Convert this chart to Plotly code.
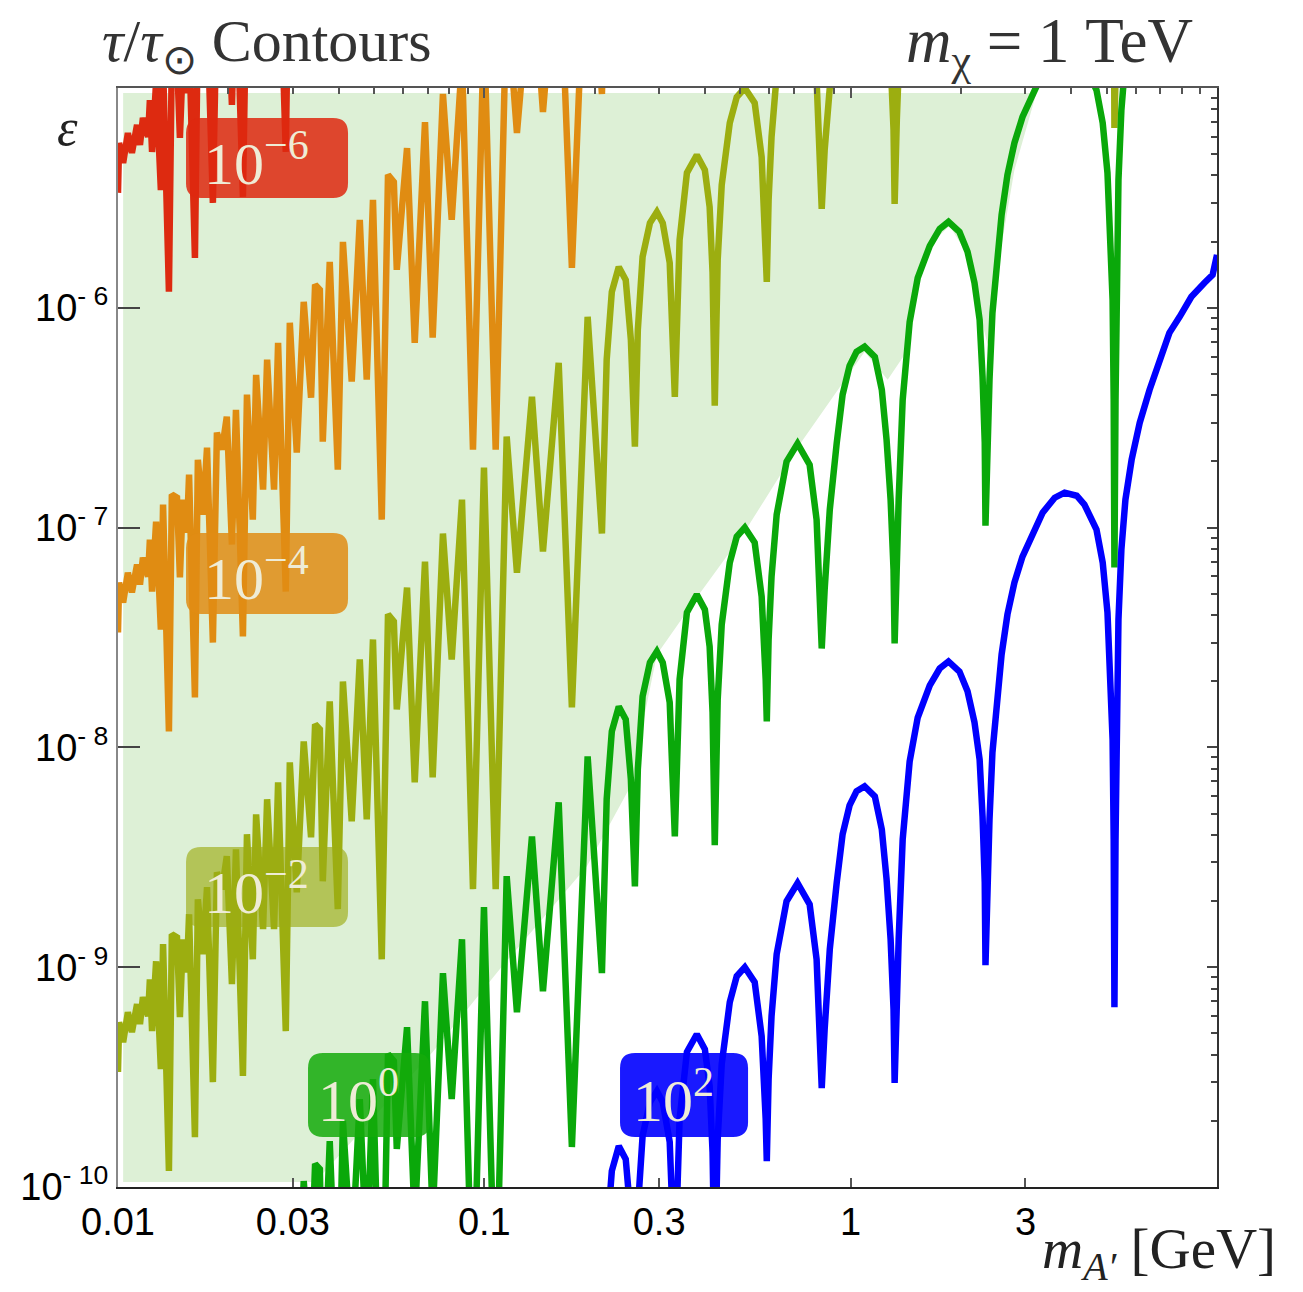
import numpy as np
import plotly.graph_objects as go

# ---------------- data ----------------
# Shared resonance profile of the contours: log10(m_A' / GeV) and log10(epsilon)
# on the tau/tau_sun = 1 contour.  Every other contour is the same curve rescaled in epsilon.
log_mA = [
    -2.000, -1.997, -1.986, -1.973, -1.962, -1.948, -1.940, -1.932, -1.918, -1.913,
    -1.907, -1.896, -1.883, -1.877, -1.861, -1.853, -1.839, -1.831, -1.823, -1.812,
    -1.806, -1.790, -1.782, -1.768, -1.757, -1.741, -1.730, -1.716, -1.703, -1.689,
    -1.678, -1.659, -1.648, -1.632, -1.623, -1.604, -1.593, -1.574, -1.563, -1.542,
    -1.531, -1.512, -1.493, -1.473, -1.462, -1.449, -1.441, -1.422, -1.400, -1.386,
    -1.362, -1.340, -1.321, -1.304, -1.280, -1.263, -1.247, -1.239, -1.211, -1.190,
    -1.162, -1.141, -1.113, -1.089, -1.061, -1.031, -1.001, -0.969, -0.939, -0.911,
    -0.870, -0.840, -0.797, -0.761, -0.718, -0.679, -0.666, -0.652, -0.633, -0.614,
    -0.600, -0.589, -0.581, -0.568, -0.548, -0.529, -0.513, -0.494, -0.480, -0.467,
    -0.447, -0.420, -0.398, -0.385, -0.377, -0.371, -0.363, -0.352, -0.330, -0.311,
    -0.289, -0.262, -0.243, -0.232, -0.229, -0.224, -0.216, -0.202, -0.175, -0.145,
    -0.112, -0.093, -0.085, -0.079, -0.071, -0.057, -0.038, -0.022, -0.003, 0.016,
    0.038, 0.066, 0.085, 0.098, 0.109, 0.117, 0.120, 0.126, 0.131, 0.142,
    0.161, 0.183, 0.216, 0.243, 0.267, 0.297, 0.319, 0.338, 0.352, 0.360,
    0.366, 0.368, 0.374, 0.379, 0.387, 0.398, 0.412, 0.428, 0.447, 0.469,
    0.494, 0.524, 0.557, 0.584, 0.617, 0.638, 0.671, 0.688, 0.701, 0.709,
    0.715, 0.718, 0.720, 0.723, 0.726, 0.731, 0.739, 0.750, 0.767, 0.789,
    0.816, 0.843, 0.870, 0.898, 0.930, 0.966, 0.988, 1.000,
]
log_eps_unit = [
    -11.477, -11.250, -11.341, -11.205, -11.295, -11.168, -11.259, -11.136, -11.223, -11.055,
    -11.291, -10.973, -11.464, -10.895, -11.927, -10.850, -10.864, -11.227, -10.873, -11.023,
    -10.759, -11.773, -10.691, -10.941, -10.636, -11.523, -10.568, -10.645, -10.495, -11.077,
    -10.464, -11.495, -10.395, -10.964, -10.305, -10.827, -10.236, -10.827, -10.159, -11.291,
    -10.068, -10.659, -9.973, -10.409, -9.895, -9.918, -10.609, -9.791, -10.736, -9.700,
    -10.336, -9.600, -10.327, -9.509, -10.964, -9.395, -9.427, -9.827, -9.273, -10.159,
    -9.155, -10.136, -9.027, -9.600, -8.873, -10.645, -8.727, -10.645, -8.586, -9.205,
    -8.405, -9.109, -8.250, -9.818, -8.041, -9.027, -8.236, -7.927, -7.814, -7.873,
    -8.145, -8.632, -8.100, -7.768, -7.614, -7.564, -7.614, -7.795, -8.405, -7.691,
    -7.386, -7.305, -7.373, -7.541, -7.841, -8.445, -7.782, -7.441, -7.159, -7.041,
    -7.000, -7.068, -7.314, -7.691, -7.882, -7.509, -7.223, -6.941, -6.700, -6.618,
    -6.714, -6.964, -7.282, -7.550, -7.282, -6.918, -6.614, -6.395, -6.264, -6.200,
    -6.177, -6.223, -6.373, -6.600, -6.873, -7.191, -7.527, -7.145, -6.873, -6.418,
    -6.064, -5.864, -5.718, -5.641, -5.609, -5.655, -5.745, -5.886, -6.055, -6.314,
    -6.614, -6.991, -6.555, -6.327, -6.023, -5.805, -5.577, -5.395, -5.250, -5.132,
    -5.041, -4.932, -4.864, -4.841, -4.855, -4.895, -5.009, -5.159, -5.386, -5.645,
    -5.964, -6.418, -7.182, -6.418, -5.782, -5.418, -5.100, -4.873, -4.691, -4.523,
    -4.373, -4.250, -4.114, -4.041, -3.950, -3.886, -3.850, -3.759,
]

# contour levels tau/tau_sun and their labels / colours
levels = [1e-6, 1e-4, 1e-2, 1e0, 1e2]
level_labels = ["10<sup>\u22126</sup>", "10<sup>\u22124</sup>", "10<sup>\u22122</sup>",
                "10<sup>0</sup>", "10<sup>2</sup>"]
line_colors = ["#dd2a10", "#e08c12", "#9cae10", "#0aa80a", "#0000ff"]
box_colors = ["rgba(222,40,15,0.85)", "rgba(224,140,20,0.85)", "rgba(157,172,20,0.65)",
              "rgba(20,170,10,0.85)", "rgba(0,0,255,0.9)"]

# shaded region (log10 m_A', log10 eps)
fill_log_mA = [-1.986, 0.507, 0.447, 0.398, 0.374, 0.347, 0.319, 0.270, 0.221, 0.175,
               0.147, 0.101, 0.038, -0.145, -0.289, -0.420, -0.529, -0.576, -0.595,
               -0.720, -0.958, -1.141, -1.462, -1.986]
fill_log_eps = [-5.023, -5.023, -5.373, -5.850, -6.168, -5.986, -5.759, -5.627, -5.705, -5.918,
                -6.214, -6.327, -6.200, -6.636, -7.018, -7.318, -7.577, -7.964, -8.159,
                -8.541, -9.009, -9.386, -9.977, -9.977]

x_tick_vals = [0.01, 0.03, 0.1, 0.3, 1, 3]
x_tick_text = ["0.01", "0.03", "0.1", "0.3", "1", "3"]
y_tick_vals = [1e-10, 1e-9, 1e-8, 1e-7, 1e-6]
y_tick_text = ["10<sup>- 10</sup>", "10<sup>- 9</sup>", "10<sup>- 8</sup>",
               "10<sup>- 7</sup>", "10<sup>- 6</sup>"]

# ---------------- figure ----------------
fig = go.Figure()

fig.add_trace(go.Scatter(
    x=10 ** np.array(fill_log_mA), y=10 ** np.array(fill_log_eps),
    mode="lines", fill="toself", fillcolor="#ddf0d6",
    line=dict(width=0, color="rgba(0,0,0,0)"), hoverinfo="skip", showlegend=False))

m_vals = 10 ** np.array(log_mA)
eps_unit = 10 ** np.array(log_eps_unit)
for lev, col in zip(levels, line_colors):
    fig.add_trace(go.Scatter(
        x=m_vals, y=eps_unit / lev, mode="lines",
        line=dict(color=col, width=6.5), hoverinfo="skip", showlegend=False))

# invisible trace for the mirrored (top/right) axes
fig.add_trace(go.Scatter(x=[0.1], y=[1e-7], xaxis="x2", yaxis="y2", mode="markers",
                         marker=dict(opacity=0), hoverinfo="skip", showlegend=False))

# rounded label boxes (paper coordinates)
def rbox(x0, y0, x1, y1, r=0.0136):
    return (f"M {x0+r},{y0} L {x1-r},{y0} Q {x1},{y0} {x1},{y0+r} "
            f"L {x1},{y1-r} Q {x1},{y1} {x1-r},{y1} L {x0+r},{y1} "
            f"Q {x0},{y1} {x0},{y1-r} L {x0},{y0+r} Q {x0},{y0} {x0+r},{y0} Z")

boxes = [(0.0619, 0.8999, 0.2093, 0.9727),
         (0.0619, 0.5214, 0.2093, 0.5951),
         (0.0619, 0.2366, 0.2093, 0.3094),
         (0.1729, 0.0455, 0.2839, 0.1219),
         (0.4568, 0.0455, 0.5733, 0.1219)]
shapes = []
annotations = []
for (x0, y0, x1, y1), bc, lab in zip(boxes, box_colors, level_labels):
    shapes.append(dict(type="path", xref="paper", yref="paper", path=rbox(x0, y0, x1, y1),
                       fillcolor=bc, line=dict(width=0), layer="above"))
    annotations.append(dict(xref="paper", yref="paper", x=(x0 + x1) / 2 - 0.010,
                            y=(y0 + y1) / 2 - 0.001, text=lab, showarrow=False,
                            xanchor="center", yanchor="middle",
                            font=dict(family="Liberation Serif", size=60, color="#eeecd6")))

serif = "Liberation Serif"
annotations += [
    dict(xref="paper", yref="paper", x=-0.0164, y=1.039, xanchor="left", yanchor="middle",
         text="<i>\u03c4</i>/<i>\u03c4</i><sub>\u2299</sub> Contours", showarrow=False,
         font=dict(family=serif, size=60, color="#333333")),
    dict(xref="paper", yref="paper", x=0.980, y=1.039, xanchor="right", yanchor="middle",
         text="<i>m</i><sub>\u03c7</sub> = 1 TeV", showarrow=False,
         font=dict(family=serif, size=63, color="#333333")),
    dict(xref="paper", yref="paper", x=1.0555, y=-0.060, xanchor="right", yanchor="middle",
         text="<i>m</i><sub><i>A\u2032</i></sub> [GeV]", showarrow=False,
         font=dict(family=serif, size=57, color="#222222")),
    dict(xref="paper", yref="paper", x=-0.0455, y=0.9645, xanchor="center", yanchor="middle",
         text="<i>\u03b5</i>", showarrow=False,
         font=dict(family=serif, size=52, color="#222222")),
]

minor_x = [k * 10.0 ** e for e in (-2, -1, 0) for k in range(2, 10)]
minor_y = [k * 10.0 ** e for e in (-10, -9, -8, -7, -6) for k in range(2, 10)]

tickfont = dict(family="Liberation Sans", size=38, color="black")
fig.update_layout(
    width=1303, height=1292, autosize=False,
    margin=dict(l=118, r=86, t=88, b=105),
    paper_bgcolor="white", plot_bgcolor="white",
    shapes=shapes, annotations=annotations,
    xaxis=dict(type="log", range=[-2, 1], tickvals=x_tick_vals, ticktext=x_tick_text,
               ticks="inside", ticklen=9, tickwidth=1.5, tickcolor="#555",
               showline=True, linecolor="#222", linewidth=2, showgrid=False, zeroline=False,
               tickfont=tickfont),
    yaxis=dict(type="log", range=[-10, -5], tickvals=y_tick_vals, ticktext=y_tick_text,
               ticks="inside", ticklen=22, tickwidth=1.5, tickcolor="#444",
               showline=True, linecolor="#888", linewidth=2, showgrid=False, zeroline=False,
               tickfont=tickfont),
    xaxis2=dict(type="log", range=[-2, 1], overlaying="x", side="top",
                tickvals=[0.01, 0.1, 1, 10], showticklabels=False,
                ticks="inside", ticklen=10, tickwidth=1.5, tickcolor="#555",
                minor=dict(tickvals=minor_x, ticks="inside", ticklen=6, tickcolor="#555"),
                showline=True, linecolor="#555", linewidth=2, showgrid=False, zeroline=False),
    yaxis2=dict(type="log", range=[-10, -5], overlaying="y", side="right",
                tickvals=[1e-10, 1e-9, 1e-8, 1e-7, 1e-6, 1e-5], showticklabels=False,
                ticks="inside", ticklen=10, tickwidth=1.5, tickcolor="#444",
                minor=dict(tickvals=minor_y, ticks="inside", ticklen=6, tickcolor="#444"),
                showline=True, linecolor="#333", linewidth=2, showgrid=False, zeroline=False),
)

fig.write_html("out.html", config={"displayModeBar": False},
               post_script="document.body.style.margin='0';")
